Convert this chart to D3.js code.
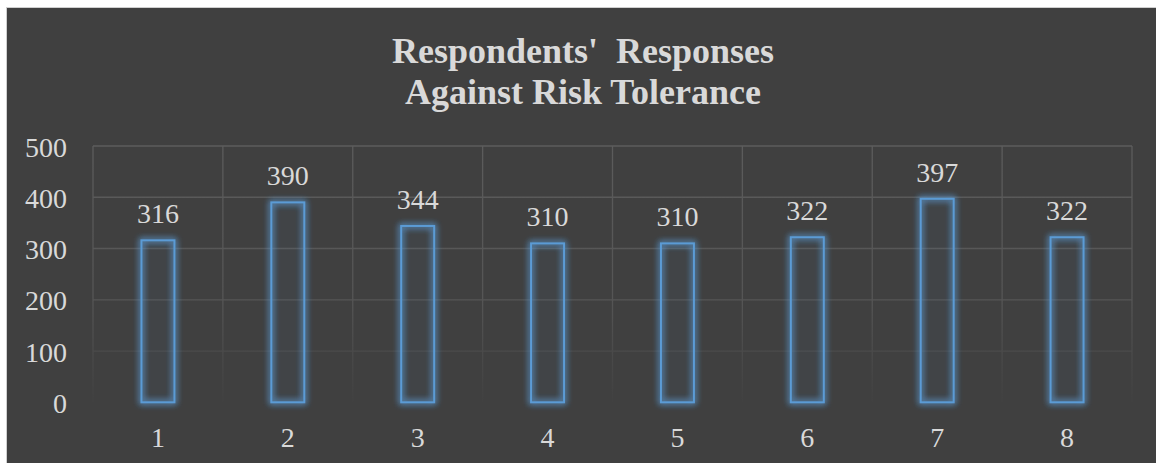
<!DOCTYPE html>
<html><head><meta charset="utf-8">
<script src="https://cdn.jsdelivr.net/npm/d3@7"></script>
<style>html,body{margin:0;padding:0;background:#fff;}svg{display:block;}</style>
</head><body>
<svg id="c" width="1156" height="463"></svg>
<script>
const categories = ["1","2","3","4","5","6","7","8"];
const values = [316, 390, 344, 310, 310, 322, 397, 322];
const yTicks = [0, 100, 200, 300, 400, 500];
const titleLines = ["Respondents'  Responses", "Against Risk Tolerance"];

const svg = d3.select("#c");
const W = 1156, H = 463;
const font = "'Liberation Serif', 'Times New Roman', serif";
const textCol = "#d9d9d9";

svg.append("rect").attr("x", 6.5).attr("y", 7.5).attr("width", W).attr("height", H)
  .attr("fill", "#404040").attr("stroke", "#cfcfcf").attr("stroke-width", 1);

const defs = svg.append("defs");
const grad = defs.append("linearGradient").attr("id", "gg")
  .attr("gradientUnits", "userSpaceOnUse").attr("x1", 0).attr("x2", 0).attr("y1", 146).attr("y2", 402);
grad.append("stop").attr("offset", 0).attr("stop-color", "#5c5c5c");
grad.append("stop").attr("offset", 0.6).attr("stop-color", "#555555");
grad.append("stop").attr("offset", 0.85).attr("stop-color", "#484848");
grad.append("stop").attr("offset", 1).attr("stop-color", "#414141");

const glow = defs.append("filter").attr("id", "glow").attr("x", "-50%").attr("y", "-20%").attr("width", "200%").attr("height", "140%");
glow.append("feGaussianBlur").attr("in", "SourceGraphic").attr("stdDeviation", 3).attr("result", "b");
const fm = glow.append("feMerge");
fm.append("feMergeNode").attr("in", "b");
fm.append("feMergeNode").attr("in", "b");

const x = d3.scaleBand().domain(categories).range([93, 1132]).padding(0);
const y = d3.scaleLinear().domain([0, 500]).range([402.3, 146]);

// gridlines
const grid = svg.append("g").attr("stroke", "url(#gg)").attr("stroke-width", 1.3).attr("fill", "none");
yTicks.filter(t => t > 0).forEach(t => {
  grid.append("line").attr("x1", 93).attr("x2", 1132).attr("y1", y(t)).attr("y2", y(t));
});
x.domain().concat(["end"]).forEach((c, i) => {
  const xx = i < categories.length ? x(c) : 1132;
  grid.append("line").attr("x1", xx).attr("x2", xx).attr("y1", y(500)).attr("y2", y(0));
});

// y axis labels
const yAxis = d3.axisLeft(y).tickValues(yTicks).tickSize(0).tickPadding(0);
const ya = svg.append("g").attr("transform", "translate(67,0)").call(yAxis);
ya.select(".domain").remove();
ya.selectAll("text").attr("font-family", font).attr("font-size", 28).attr("fill", textCol).attr("dy", "0.36em");

// x axis labels
const xAxis = d3.axisBottom(x).tickSize(0).tickPadding(0);
const xa = svg.append("g").attr("transform", "translate(0,447)").call(xAxis);
xa.select(".domain").remove();
xa.selectAll("text").attr("font-family", font).attr("font-size", 28).attr("fill", textCol).attr("dy", 0);

// bars
const bw = x.bandwidth() * 0.254;
const bars = svg.append("g");
const data = categories.map((c, i) => ({ c, v: values[i] }));
bars.selectAll("rect.glow").data(data).join("rect").attr("class", "glow")
  .attr("x", d => x(d.c) + x.bandwidth() / 2 - bw / 2).attr("width", bw)
  .attr("y", d => y(d.v)).attr("height", d => y(0) - y(d.v))
  .attr("fill", "none").attr("stroke", "#5b9bd5").attr("stroke-width", 4).attr("stroke-opacity", 0.55)
  .attr("filter", "url(#glow)");
bars.selectAll("rect.bar").data(data).join("rect").attr("class", "bar")
  .attr("x", d => x(d.c) + x.bandwidth() / 2 - bw / 2).attr("width", bw)
  .attr("y", d => y(d.v)).attr("height", d => y(0) - y(d.v))
  .attr("fill", "rgba(91,155,213,0.05)").attr("stroke", "#5b9bd5").attr("stroke-width", 2);

// data labels
svg.append("g").selectAll("text").data(data).join("text")
  .attr("x", d => x(d.c) + x.bandwidth() / 2).attr("y", d => y(d.v) - 17)
  .attr("text-anchor", "middle").attr("font-family", font).attr("font-size", 28).attr("fill", textCol)
  .text(d => d.v);

// title
svg.append("g").selectAll("text").data(titleLines).join("text")
  .attr("x", 583).attr("y", (d, i) => 63 + i * 41)
  .attr("text-anchor", "middle").attr("font-family", font).attr("font-weight", "bold")
  .attr("font-size", 36).attr("fill", textCol).attr("xml:space", "preserve").style("white-space", "pre")
  .text(d => d);
</script>
</body></html>
